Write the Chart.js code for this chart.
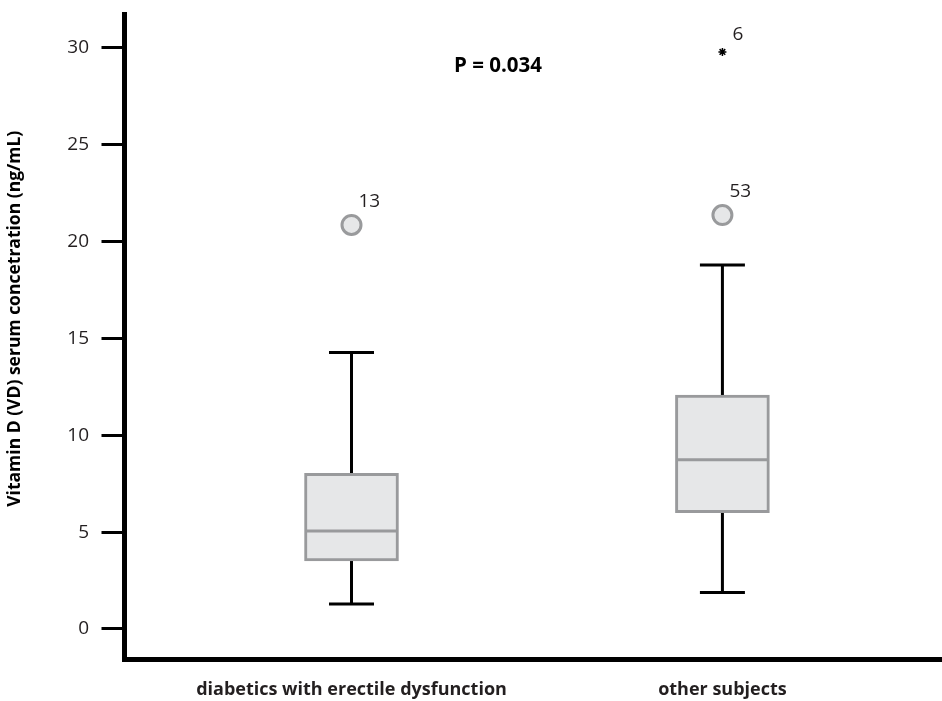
<!DOCTYPE html>
<html>
<head>
<meta charset="utf-8">
<script src="https://cdn.jsdelivr.net/npm/chart.js@4.4.1/dist/chart.umd.min.js"></script>
<style>
  html, body { margin: 0; padding: 0; background: #fff; }
  #wrap { width: 942px; height: 701px; }
</style>
</head>
<body>
<div id="wrap"><canvas id="myChart"></canvas></div>
<script>
// groups on the x axis
const categories = ['diabetics with erectile dysfunction', 'other subjects'];
const groupPos = [1, 2];

// box plot summary per group
const whiskerLow = [1.29, 1.89];
const q1 = [3.51, 6.0];
const median = [5.06, 8.74];
const q3 = [8.04, 12.07];
const whiskerHigh = [14.28, 18.79];

// outliers (circles) and extremes (asterisk)
const outlierGroup = [1, 2];
const outlierValues = [20.86, 21.37];
const outlierIds = ['13', '53'];
const extremeGroup = [2];
const extremeValues = [29.79];
const extremeIds = ['6'];

const yTicks = [0, 5, 10, 15, 20, 25, 30];
const pValueText = 'P = 0.034';
const yTitle = 'Vitamin D (VD) serum concetration (ng/mL)';

const ink = '#231f20';
const boxFill = '#e6e7e8';
const boxLine = '#999a9c';
const fontName = '"Open Sans"';

var boxData = [];
for (i = 0; i < categories.length; i++) {
    boxData.push({x: groupPos[i], y: [q1[i], q3[i]]});
}
var outlierData = outlierGroup.map((g, i) => ({x: g, y: outlierValues[i]}));
var extremeData = extremeGroup.map((g, i) => ({x: g, y: extremeValues[i]}));

const boxPlugin = {
    id: 'boxParts',
    beforeDatasetsDraw(chart) {
        const c = chart.ctx, xs = chart.scales.x, ys = chart.scales.y;
        c.save();
        c.strokeStyle = '#000';
        c.lineWidth = 3;
        for (i = 0; i < categories.length; i++) {
            const px = xs.getPixelForValue(groupPos[i]);
            c.beginPath();
            c.moveTo(px, ys.getPixelForValue(whiskerHigh[i]));
            c.lineTo(px, ys.getPixelForValue(q3[i]));
            c.moveTo(px, ys.getPixelForValue(whiskerLow[i]));
            c.lineTo(px, ys.getPixelForValue(q1[i]));
            // caps
            c.moveTo(px - 22.5, ys.getPixelForValue(whiskerHigh[i]));
            c.lineTo(px + 22.5, ys.getPixelForValue(whiskerHigh[i]));
            c.moveTo(px - 22.5, ys.getPixelForValue(whiskerLow[i]));
            c.lineTo(px + 22.5, ys.getPixelForValue(whiskerLow[i]));
            c.stroke();
        }
        c.restore();
    },
    afterDatasetsDraw(chart) {
        const c = chart.ctx, xs = chart.scales.x, ys = chart.scales.y;
        const area = chart.chartArea;
        c.save();
        // medians
        c.strokeStyle = boxLine;
        c.lineWidth = 3;
        for (i = 0; i < categories.length; i++) {
            const px = xs.getPixelForValue(groupPos[i]);
            const py = ys.getPixelForValue(median[i]);
            c.beginPath();
            c.moveTo(px - 45, py);
            c.lineTo(px + 45, py);
            c.stroke();
        }
        // case numbers next to outliers
        c.fillStyle = ink;
        c.font = '19px ' + fontName;
        c.textAlign = 'left';
        c.textBaseline = 'middle';
        for (i = 0; i < outlierIds.length; i++) {
            const px = xs.getPixelForValue(outlierGroup[i]);
            const py = ys.getPixelForValue(outlierValues[i]);
            c.fillText(outlierIds[i], px + 7, py - 23);
        }
        for (i = 0; i < extremeIds.length; i++) {
            const px = xs.getPixelForValue(extremeGroup[i]);
            const py = ys.getPixelForValue(extremeValues[i]);
            c.fillText(extremeIds[i], px + 10, py - 17);
        }
        // p value
        c.font = 'bold 20.5px ' + fontName;
        c.textAlign = 'center';
        c.fillStyle = '#000';
        c.fillText(pValueText, xs.getPixelForValue(1.395), ys.getPixelForValue(29.07));
        // y axis title
        c.translate(15, (area.top + area.bottom) / 2 - 18);
        c.rotate(-Math.PI / 2);
        c.font = 'bold 17.5px ' + fontName;
        c.fillText(yTitle, 0, 0);
        c.restore();
    }
};

const ctx = document.getElementById('myChart');
const myChart = new Chart(ctx, {
    type: 'bar',
    data: {
        datasets: [{
            label: 'box',
            data: boxData,
            backgroundColor: boxFill,
            borderColor: boxLine,
            borderWidth: 3,
            borderSkipped: false,
            barThickness: 94,
            order: 2
        }, {
            type: 'scatter',
            label: 'outliers',
            data: outlierData,
            pointRadius: 9.5,
            pointBorderWidth: 3,
            backgroundColor: boxFill,
            borderColor: boxLine,
            order: 1
        }, {
            type: 'scatter',
            label: 'extremes',
            data: extremeData,
            pointStyle: 'star',
            pointRadius: 4,
            pointBorderWidth: 1.5,
            borderColor: '#000',
            backgroundColor: '#000',
            order: 1
        }]
    },
    options: {
        responsive: true,
        maintainAspectRatio: false,
        animation: false,
        events: [],
        layout: { autoPadding: false, padding: { top: 14, left: 0, right: 0, bottom: 0 } },
        plugins: {
            legend: { display: false },
            tooltip: { enabled: false }
        },
        scales: {
            x: {
                type: 'linear',
                position: 'bottom',
                offset: false,
                min: 0.388,
                max: 2.592,
                afterBuildTicks: (scale) => { scale.ticks = groupPos.map(v => ({value: v})); },
                afterFit: (scale) => {
                    scale.height = 41.5;
                    scale.paddingLeft = 0;
                    scale.paddingRight = 0;
                },
                grid: { display: false, drawTicks: false, offset: false },
                border: { display: true, color: '#000', width: 5 },
                ticks: {
                    padding: 20,
                    color: ink,
                    font: { family: fontName, size: 18, weight: 'bold' },
                    maxRotation: 0,
                    autoSkip: false,
                    callback: (v) => categories[groupPos.indexOf(v)]
                }
            },
            y: {
                min: -1.575,
                max: 31.75,
                afterBuildTicks: (scale) => { scale.ticks = yTicks.map(v => ({value: v})); },
                afterFit: (scale) => {
                    scale.width = 124.5;
                    scale.paddingTop = 0;
                    scale.paddingBottom = 0;
                },
                grid: {
                    drawOnChartArea: false,
                    drawTicks: true,
                    tickLength: 23,
                    lineWidth: 3,
                    color: '#000'
                },
                border: { display: true, color: '#000', width: 5 },
                ticks: {
                    padding: 12.5,
                    color: ink,
                    font: { family: fontName, size: 19 }
                }
            }
        }
    },
    plugins: [boxPlugin]
});
</script>
</body>
</html>
